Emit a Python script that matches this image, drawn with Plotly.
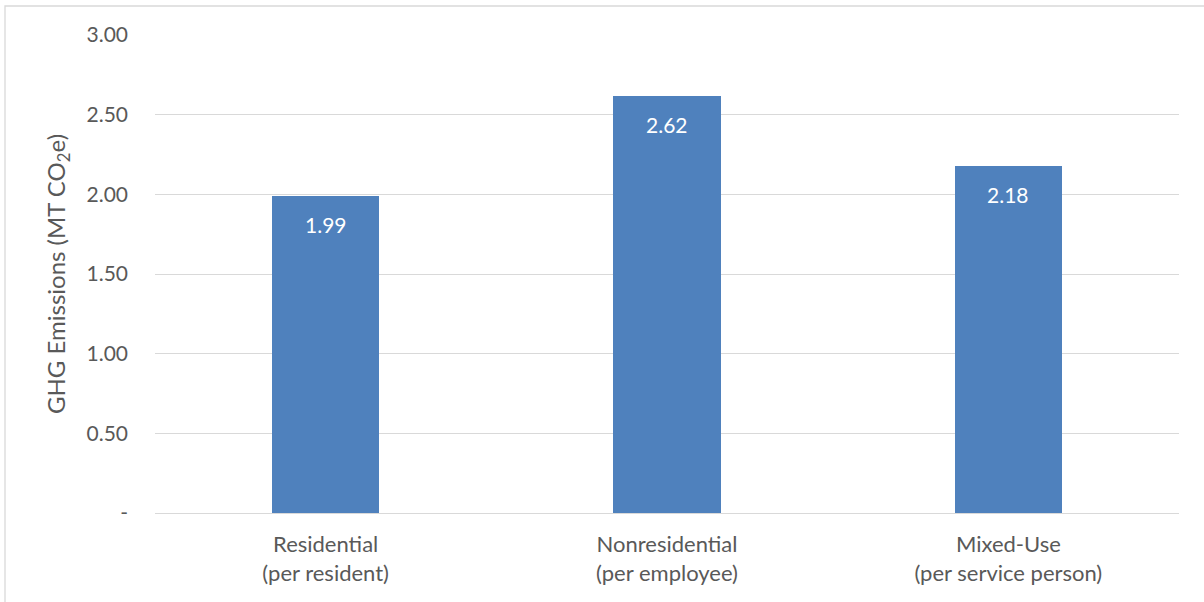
import plotly.graph_objects as go

categories = ["Residential<br>(per resident)", "Nonresidential<br>(per employee)", "Mixed-Use<br>(per service person)"]
values = [1.99, 2.62, 2.18]
tick_vals = [0, 0.5, 1.0, 1.5, 2.0, 2.5, 3.0]
tick_text = ["-", "0.50", "1.00", "1.50", "2.00", "2.50", "3.00"]

W, H = 1204, 602
L, R, T, B = 155, 25, 35, 89
pw, ph = W - L - R, H - T - B

fig = go.Figure(go.Bar(
    x=categories, y=values,
    marker=dict(color="#4F81BD", line=dict(width=0)),
    width=0.314,
    hoverinfo="x+y",
))

for c, v in zip(categories, values):
    fig.add_annotation(x=c, y=v, xref="x", yref="y", text=f"{v:.2f}",
                       showarrow=False, yanchor="top", yshift=-14,
                       font=dict(color="white", size=21, family="Lato"))

fig.update_layout(
    width=W, height=H,
    margin=dict(l=L, r=R, t=T, b=B),
    plot_bgcolor="white", paper_bgcolor="white",
    font=dict(family="Lato", color="#595959", size=21),
    showlegend=False,
    bargap=0,
    xaxis=dict(showgrid=False, showline=False, ticks="", ticklabelstandoff=16,
               tickfont=dict(size=22, color="#595959")),
    yaxis=dict(range=[0, 3.0], tickvals=tick_vals, ticktext=tick_text,
               showgrid=True, gridcolor="#D9D9D9", gridwidth=1.3,
               zeroline=True, zerolinecolor="#D9D9D9", zerolinewidth=1.3,
               ticks="", ticklabelstandoff=26, tickfont=dict(size=21, color="#595959"),
               title=dict(text="GHG Emissions (MT CO<sub>2</sub>e)", font=dict(size=24, color="#595959"), standoff=14)),
    shapes=[dict(type="rect", xref="paper", yref="paper",
                 x0=(5 - L) / pw, x1=(W + 5 - L) / pw,
                 y0=(H - B - (H + 5)) / ph, y1=(H - B - 6) / ph,
                 line=dict(color="#D9D9D9", width=1.3), fillcolor="rgba(0,0,0,0)", layer="below")],
)

fig.write_html("out.html")
